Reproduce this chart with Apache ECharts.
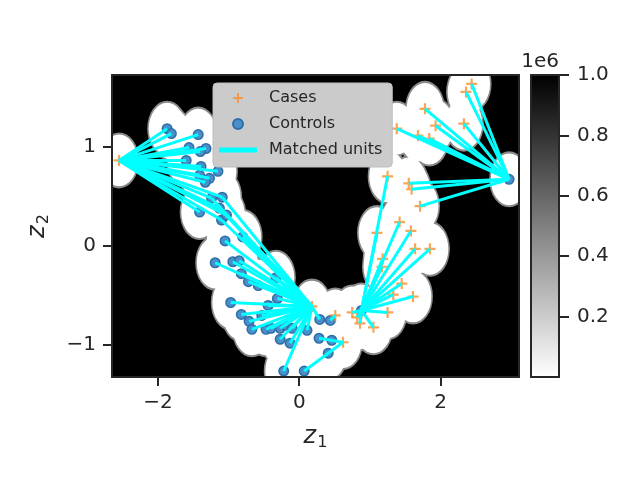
<!DOCTYPE html>
<html>
<head>
<meta charset="utf-8">
<script src="https://cdn.jsdelivr.net/npm/echarts@6/dist/echarts.min.js"></script>
<style>
  html, body { margin: 0; background: #fff; }
  #chart { width: 640px; height: 480px; }
</style>
</head>
<body>
<div id="chart"></div>
<script>
// cases (orange +) and controls (blue dots), in (z1, z2)
const cases = [
    [-2.55, 0.86], [0.18, -0.61], [0.51, -0.70], [0.62, -0.97], [0.75, -0.67],
    [0.86, -0.78], [0.82, -0.72], [1.05, -0.82], [1.25, -0.67], [1.33, -0.49],
    [1.61, -0.51], [1.45, -0.38], [1.17, -0.21], [1.18, -0.13], [1.64, -0.03],
    [1.85, -0.03], [1.10, 0.13], [1.58, 0.15], [1.42, 0.24], [1.25, 0.70],
    [1.55, 0.63], [1.59, 0.57], [1.71, 0.40], [1.38, 1.18], [1.68, 1.11],
    [1.84, 1.08], [1.93, 1.21], [1.78, 1.38], [2.33, 1.23], [2.36, 1.55],
    [2.44, 1.63]
];
const controls = [
    [2.97, 0.67], [0.88, -0.65],
    [-1.87, 1.18], [-1.81, 1.13], [-1.43, 1.12], [-1.56, 0.99], [-1.32, 0.98],
    [-1.40, 0.95], [-1.60, 0.86], [-1.39, 0.80], [-1.15, 0.75], [-1.27, 0.68],
    [-1.41, 0.71], [-1.33, 0.64], [-1.09, 0.49], [-1.24, 0.48], [-1.41, 0.34],
    [-1.13, 0.38], [-1.10, 0.26], [-1.03, 0.31],
    [-0.80, 0.09], [-1.05, 0.05], [-1.19, -0.17], [-0.94, -0.16], [-0.85, -0.15],
    [-0.82, -0.28], [-0.72, -0.36], [-0.58, -0.40], [-0.33, -0.32], [-0.31, -0.53],
    [-0.97, -0.57], [-0.44, -0.60], [-0.82, -0.69], [-0.53, -0.70], [-0.71, -0.76],
    [-0.67, -0.84], [-0.47, -0.84], [-0.40, -0.83], [-0.27, -0.83], [-0.20, -0.80],
    [-0.27, -0.94], [-0.13, -0.98], [0.11, -0.85], [0.29, -0.74], [0.44, -0.75],
    [0.28, -0.93], [0.46, -0.95], [0.41, -1.08], [-0.22, -1.26], [0.07, -1.26],
    [-0.10, -0.83]
];
// matched pairs: [case index, control index]
const matches = [
    [0, 2], [0, 3], [0, 4], [0, 5], [0, 6], [0, 7], [0, 8], [0, 9], [0, 10],
    [0, 11], [0, 12], [0, 13], [0, 14], [0, 15], [0, 16], [0, 17], [0, 18], [0, 19],
    [1, 14], [1, 15], [1, 17], [1, 18], [1, 19], [1, 20], [1, 21], [1, 22], [1, 23],
    [1, 24], [1, 25], [1, 26], [1, 27], [1, 28], [1, 29], [1, 30], [1, 31], [1, 32],
    [1, 33], [1, 34], [1, 35], [1, 36], [1, 37], [1, 38], [1, 39], [1, 40], [1, 41],
    [1, 42], [1, 43], [1, 48], [1, 50],
    [2, 44], [3, 45], [3, 49],
    [4, 1], [5, 1], [6, 1], [7, 1], [8, 1], [9, 1], [10, 1], [11, 1], [12, 1],
    [13, 1], [14, 1], [15, 1], [16, 1], [17, 1], [18, 1], [19, 1],
    [20, 0], [21, 0], [22, 0], [23, 0], [24, 0], [25, 0], [26, 0], [27, 0],
    [28, 0], [29, 0], [30, 0]
];

const xRange = [-2.65, 3.11];
const yRange = [-1.32, 1.72];
const xTicks = [-2, 0, 2];
const yTicks = [-1, 0, 1];
const cbarRange = [0, 1];          // x 1e6
const cbarTicks = [0.2, 0.4, 0.6, 0.8, 1.0];
const supportRadius = 0.26;        // white region round each unit, in z units

const FONT = 'DejaVu Sans';
const INK = '#262626';
const ORANGE = '#f98d2c';
const BLUE = '#4a8fc9';
const PLUS = 'path://M4,0H6V4H10V6H6V10H4V6H0V4H4Z';

const minus = v => String(v).replace('-', '\u2212');

const chart = echarts.init(document.getElementById('chart'));

function blobSeries(extra, fill) {
    return {
        type: 'custom',
        coordinateSystem: 'cartesian2d',
        xAxisIndex: 0, yAxisIndex: 0,
        clip: true,
        silent: true,
        z: 1,
        data: cases.concat(controls),
        renderItem: function (params, api) {
            const c = api.coord([api.value(0), api.value(1)]);
            const s = api.size([supportRadius + extra, supportRadius + extra]);
            return {
                type: 'circle',
                x: c[0], y: c[1],
                scaleX: 1, scaleY: s[1] / s[0],
                shape: { cx: 0, cy: 0, r: s[0] },
                style: { fill: fill }
            };
        }
    };
}

const frameAxis = {
    axisLine: { show: true, onZero: false, lineStyle: { color: INK, width: 2 } },
    axisTick: { show: false },
    axisLabel: { show: false },
    splitLine: { show: false },
    z: 10
};
const tickLabel = { fontFamily: FONT, fontSize: 20, color: INK };

const option = {
    animation: false,
    backgroundColor: '#fff',
    grid: [
        { left: 112, top: 75, width: 407, height: 302, show: true, backgroundColor: '#000', borderWidth: 0 },
        { left: 531, top: 75, width: 28, height: 302 }
    ],
    xAxis: [
        Object.assign({}, frameAxis, {
            type: 'value', gridIndex: 0, position: 'bottom', min: xRange[0], max: xRange[1],
            axisTick: { show: true, customValues: xTicks, length: 9, lineStyle: { color: INK, width: 2 } },
            axisLabel: Object.assign({ show: true, customValues: xTicks, margin: 16, formatter: minus }, tickLabel),
            name: '{i|z}{s|1}', nameLocation: 'middle', nameGap: 46,
            nameTextStyle: { color: INK, rich: {
                i: { fontFamily: FONT, fontStyle: 'italic', fontSize: 24, color: INK },
                s: { fontFamily: FONT, fontSize: 16, color: INK, padding: [12, 0, 0, 1] }
            } }
        }),
        Object.assign({}, frameAxis, { type: 'value', gridIndex: 0, position: 'top', min: xRange[0], max: xRange[1] }),
        Object.assign({}, frameAxis, { type: 'category', gridIndex: 1, position: 'bottom', data: ['cbar'] }),
        Object.assign({}, frameAxis, { type: 'category', gridIndex: 1, position: 'top', data: ['cbar'] })
    ],
    yAxis: [
        Object.assign({}, frameAxis, {
            type: 'value', gridIndex: 0, position: 'left', min: yRange[0], max: yRange[1],
            axisTick: { show: true, customValues: yTicks, length: 9, lineStyle: { color: INK, width: 2 } },
            axisLabel: Object.assign({ show: true, customValues: yTicks, margin: 16, formatter: minus }, tickLabel),
            name: '{i|z}{s|2}', nameLocation: 'middle', nameGap: 60, nameRotate: 90,
            nameTextStyle: { color: INK, rich: {
                i: { fontFamily: FONT, fontStyle: 'italic', fontSize: 24, color: INK },
                s: { fontFamily: FONT, fontSize: 16, color: INK, padding: [12, 0, 0, 1] }
            } }
        }),
        Object.assign({}, frameAxis, { type: 'value', gridIndex: 0, position: 'right', min: yRange[0], max: yRange[1] }),
        Object.assign({}, frameAxis, {
            type: 'value', gridIndex: 1, position: 'right', min: cbarRange[0], max: cbarRange[1],
            axisTick: { show: true, customValues: cbarTicks, length: 10, lineStyle: { color: INK, width: 2 } },
            axisLabel: Object.assign({ show: true, customValues: cbarTicks, margin: 18, formatter: v => v.toFixed(1) }, tickLabel),
            name: '1e6', nameLocation: 'end', nameGap: 3,
            nameTextStyle: { fontFamily: FONT, fontSize: 20, color: INK, align: 'right', verticalAlign: 'bottom' }
        }),
        Object.assign({}, frameAxis, { type: 'value', gridIndex: 1, position: 'left', min: cbarRange[0], max: cbarRange[1] })
    ],
    legend: {
        left: 213, top: 83, orient: 'vertical',
        padding: [7, 10, 9, 6],
        itemWidth: 36, itemHeight: 10, itemGap: 10,
        backgroundColor: '#cbcbcb', borderColor: '#bdbdbd', borderWidth: 1, borderRadius: 4,
        selectedMode: false,
        z: 20,
        textStyle: { fontFamily: FONT, fontSize: 16, color: INK, lineHeight: 16, padding: [0, 0, 0, 8] },
        data: [
            { name: 'Cases', icon: PLUS, itemStyle: { color: ORANGE } },
            { name: 'Controls', icon: 'circle', itemStyle: { color: BLUE } },
            { name: 'Matched units', icon: 'path://M0,0H36V3H0Z', itemStyle: { color: '#00ffff' } }
        ]
    },
    series: [
        blobSeries(0.022, '#8a8a8a'),
        blobSeries(0, '#ffffff'),
        {
            name: 'Controls', type: 'scatter', xAxisIndex: 0, yAxisIndex: 0, z: 3,
            symbol: 'circle', symbolSize: 9.5,
            itemStyle: { color: BLUE, borderColor: '#2b6ea8', borderWidth: 1.5, opacity: 1 },
            data: controls
        },
        {
            name: 'Cases', type: 'scatter', xAxisIndex: 0, yAxisIndex: 0, z: 3,
            symbol: PLUS, symbolSize: 11,
            itemStyle: { color: ORANGE },
            data: cases
        },
        {
            name: 'Matched units', type: 'lines', coordinateSystem: 'cartesian2d',
            xAxisIndex: 0, yAxisIndex: 0, z: 4, clip: true,
            lineStyle: { color: '#00ffff', width: 3, opacity: 1 },
            data: matches.map(m => ({ coords: [cases[m[0]], controls[m[1]]] }))
        },
        {
            type: 'bar', xAxisIndex: 2, yAxisIndex: 2, barWidth: '100%', silent: true,
            itemStyle: { color: { type: 'linear', x: 0, y: 0, x2: 0, y2: 1,
                colorStops: [{ offset: 0, color: '#000' }, { offset: 1, color: '#fff' }] } },
            data: [cbarRange[1]]
        }
    ]
};

chart.setOption(option);
</script>
</body>
</html>
